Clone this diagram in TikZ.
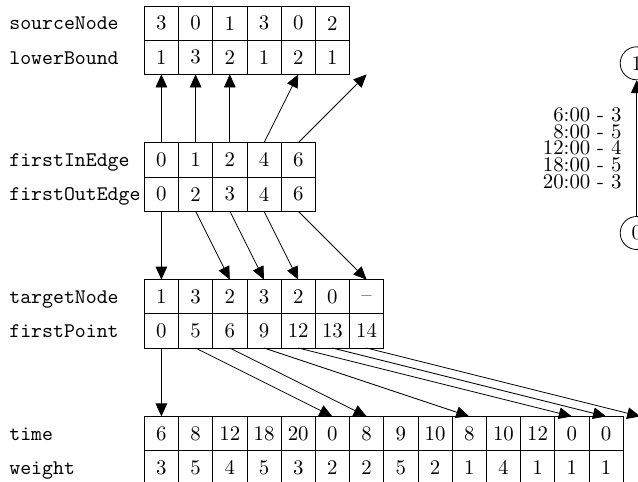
\documentclass[tikz,border=0pt]{standalone}
\usetikzlibrary{arrows.meta}
\begin{document}
\begin{tikzpicture}[
  every node/.style={font=\fontsize{10.4}{12.5}\selectfont},
  cell/.style={draw, minimum width=17.1pt, minimum height=17.1pt, inner sep=0pt, outer sep=0pt},
  lbl/.style={anchor=base west, inner sep=0pt, font=\fontsize{10.4}{12.5}\selectfont\ttfamily},
  arr/.style={-{Triangle[length=6.5pt,width=5.8pt]}},
  vertex/.style={circle, draw, minimum size=16.5pt, inner sep=0pt},
]
\useasboundingbox (0,0) rectangle (319pt,-241pt);

% sourceNode / lowerBound
\foreach \v [count=\i from 0] in {3,0,1,3,0,2}
  \node[cell] (sn-\i) at ({72.15pt+(\i+0.5)*17.1pt},-11.55pt) {\v};
\foreach \v [count=\i from 0] in {1,3,2,1,2,1}
  \node[cell] (lb-\i) at ({72.15pt+(\i+0.5)*17.1pt},-28.65pt) {\v};
\coordinate (lbend) at ({72.15pt+6.5*17.1pt},-37.2pt);

% firstInEdge / firstOutEdge
\foreach \v [count=\i from 0] in {0,1,2,4,6}
  \node[cell] (fi-\i) at ({72.15pt+(\i+0.5)*17.1pt},-79.95pt) {\v};
\foreach \v [count=\i from 0] in {0,2,3,4,6}
  \node[cell] (fo-\i) at ({72.15pt+(\i+0.5)*17.1pt},-97.05pt) {\v};

% targetNode / firstPoint
\foreach \v [count=\i from 0] in {1,3,2,3,2,0}
  \node[cell] (tn-\i) at ({72.15pt+(\i+0.5)*17.1pt},-148.35pt) {\v};
\node[cell, text height=6.7pt, text depth=0pt] (tn-6)
  at ({72.15pt+6.5*17.1pt},-148.35pt) {\raisebox{1.2pt}{\textendash}};
\foreach \v [count=\i from 0] in {0,5,6,9,12,13,14}
  \node[cell] (fp-\i) at ({72.15pt+(\i+0.5)*17.1pt},-165.45pt) {\v};

% time / weight
\foreach \v [count=\i from 0] in {6,8,12,18,20,0,8,9,10,8,10,12,0,0}
  \node[cell] (tm-\i) at ({72.15pt+(\i+0.5)*17.1pt},-216.75pt) {\v};
\foreach \v [count=\i from 0] in {3,5,4,5,3,2,2,5,2,1,4,1,1,1}
  \node[cell] (wt-\i) at ({72.15pt+(\i+0.5)*17.1pt},-233.85pt) {\v};
\coordinate (tmend) at ({72.15pt+14.5*17.1pt},-208.2pt);

% row labels
\node[lbl] (l-sn) at (4.5pt,0 |- sn-0.base) {sourceNode};
\node[lbl] (l-lb) at (4.5pt,0 |- lb-0.base) {lowerBound};
\node[lbl] (l-fi) at (4.5pt,0 |- fi-0.base) {firstInEdge};
\node[lbl] (l-fo) at (4.5pt,0 |- fo-0.base) {firstOutEdge};
\node[lbl] (l-tn) at (4.5pt,0 |- tn-0.base) {targetNode};
\node[lbl] (l-fp) at (4.5pt,0 |- fp-0.base) {firstPoint};
\node[lbl] (l-tm) at (4.5pt,0 |- tm-0.base) {time};
\node[lbl] (l-wt) at (4.5pt,0 |- wt-0.base) {weight};

% index pointers
\foreach \s/\t in {0/lb-0.south,1/lb-1.south,2/lb-2.south,3/lb-4.south,4/lbend}
  \draw[arr] (fi-\s.north) -- (\t);
\foreach \s/\t in {0/0,1/2,2/3,3/4,4/6}
  \draw[arr] (fo-\s.south) -- (tn-\t.north);
\foreach \s/\t in {0/tm-0.north,1/tm-5.north,2/tm-6.north,3/tm-9.north,4/tm-12.north,5/tm-13.north,6/tmend}
  \draw[arr] (fp-\s.south) -- (\t);

% small graph
\node[vertex] (v1) at (318.35pt,-31.65pt) {1};
\node[vertex] (v0) at (318.35pt,-116.5pt) {0};
\draw[arr] (v0) -- node[anchor=east, inner sep=0pt, xshift=-7.4pt, align=right,
  font=\fontsize{10.4}{8.35}\selectfont]
  {6:00 - 3\\8:00 - 5\\12:00 - 4\\18:00 - 5\\20:00 - 3} (v1);
\end{tikzpicture}
\end{document}
